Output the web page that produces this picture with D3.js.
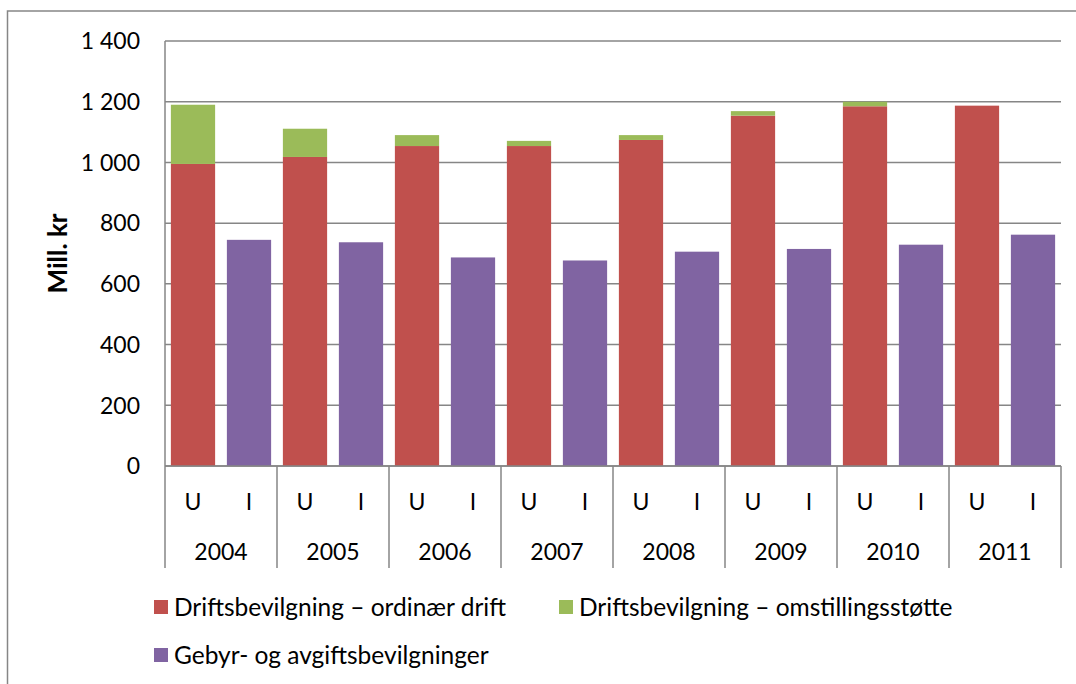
<!DOCTYPE html>
<html><head><meta charset="utf-8">
<script src="https://cdn.jsdelivr.net/npm/d3@7"></script>
<style>
html,body{margin:0;padding:0;background:#fff;overflow:hidden}
text{font-family:Lato,"Open Sans",sans-serif;fill:#000}
</style></head>
<body>
<svg id="chart" width="1076" height="684"></svg>
<script>
const years = ["2004","2005","2006","2007","2008","2009","2010","2011"];
const subCats = ["U","I"];
const ordinaer = [995,1018,1054,1054,1074,1154,1185,1187];
const omstilling = [195,93,36,17,16,15,15,0];
const gebyr = [745,737,687,677,706,715,729,762];
const yTicks = [0,200,400,600,800,1000,1200,1400];
const seriesNames = ["Driftsbevilgning \u2013 ordinær drift","Driftsbevilgning \u2013 omstillingsstøtte","Gebyr- og avgiftsbevilgninger"];
const colors = ["#C0504D","#9BBB59","#8064A2"];

(function(){
const svg = d3.select("#chart");
const grid = "#868686";
const pL = 165, pR = 1061, pT = 41, pB = 466;

// outer frame
svg.append("rect").attr("x",7.5).attr("y",11).attr("width",1200).attr("height",800)
  .attr("fill","none").attr("stroke",grid).attr("stroke-width",1.5);

const y = d3.scaleLinear().domain([0,1400]).range([pB,pT]);
const x0 = d3.scaleBand().domain(years).range([pL,pR]);
const x1 = d3.scaleBand().domain(subCats).range([0,x0.bandwidth()]).paddingInner(0.21).paddingOuter(0.105);

// gridlines
svg.append("g").selectAll("line").data(yTicks).join("line")
  .attr("x1",pL).attr("x2",pR).attr("y1",d=>y(d)).attr("y2",d=>y(d))
  .attr("stroke",grid).attr("stroke-width",1.5);

// y axis line
svg.append("line").attr("x1",pL).attr("x2",pL).attr("y1",pT).attr("y2",pB)
  .attr("stroke",grid).attr("stroke-width",1.5);

// y tick labels
const fmt = d => d3.format(",")(d).replace(/,/g," ");
svg.append("g").selectAll("text").data(yTicks).join("text")
  .attr("x",140).attr("y",d=>y(d)).attr("dy","0.36em").attr("text-anchor","end")
  .style("font-size","23px").text(fmt);

// axis title
svg.append("text").attr("transform",`translate(67,${(pT+pB)/2}) rotate(-90)`)
  .attr("text-anchor","middle").style("font-size","26px").style("font-weight","bold").text("Mill. kr");

// bars
const g = svg.append("g");
years.forEach((yr,i)=>{
  const xu = x0(yr)+x1("U"), xi = x0(yr)+x1("I"), w = x1.bandwidth();
  g.append("rect").attr("x",xu).attr("width",w).attr("y",y(ordinaer[i])).attr("height",y(0)-y(ordinaer[i])).attr("fill",colors[0]);
  if (omstilling[i]>0)
    g.append("rect").attr("x",xu).attr("width",w).attr("y",y(ordinaer[i]+omstilling[i])).attr("height",y(ordinaer[i])-y(ordinaer[i]+omstilling[i])).attr("fill",colors[1]);
  g.append("rect").attr("x",xi).attr("width",w).attr("y",y(gebyr[i])).attr("height",y(0)-y(gebyr[i])).attr("fill",colors[2]);
});

// x axis baseline
svg.append("line").attr("x1",pL).attr("x2",pR).attr("y1",pB).attr("y2",pB)
  .attr("stroke",grid).attr("stroke-width",1.5);

// category separators
const bounds = years.map(d=>x0(d)).concat([pR]);
svg.append("g").selectAll("line").data(bounds).join("line")
  .attr("x1",d=>d).attr("x2",d=>d).attr("y1",pB).attr("y2",568)
  .attr("stroke",grid).attr("stroke-width",1.5);

// sub labels
years.forEach(yr=>{
  subCats.forEach(s=>{
    svg.append("text").attr("x",x0(yr)+x1(s)+x1.bandwidth()/2).attr("y",502).attr("dy","0.36em")
      .attr("text-anchor","middle").style("font-size","23px").text(s);
  });
  svg.append("text").attr("x",x0(yr)+x0.bandwidth()/2).attr("y",552).attr("dy","0.36em")
    .attr("text-anchor","middle").style("font-size","23px").text(yr);
});

// legend
const legendPos = [[154,607],[559,607],[154,655]];
seriesNames.forEach((n,i)=>{
  const [lx,ly] = legendPos[i];
  svg.append("rect").attr("x",lx).attr("y",ly-7).attr("width",14).attr("height",14).attr("fill",colors[i]);
  svg.append("text").attr("x",lx+20).attr("y",ly).attr("dy","0.36em").style("font-size","24.5px").text(n);
});
})();
</script>
</body></html>
